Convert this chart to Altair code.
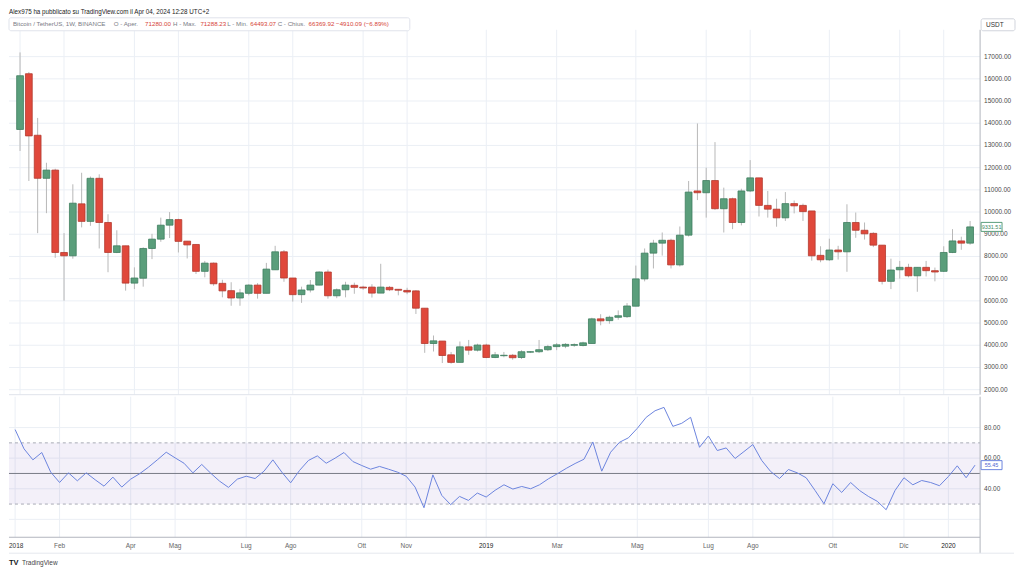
import altair as alt
import pandas as pd

# ---------------- data ----------------
opens = [13720, 16230, 13460, 11520, 11890, 8180, 8030, 10370, 9580, 11520,
         9530, 8180, 8480, 6800, 7020, 8360, 8780, 9410, 9660, 8690,
         8540, 7330, 7700, 6790, 6460, 6130, 6340, 6710, 6340, 7400,
         8210, 7030, 6280, 6490, 6710, 7300, 6230, 6500, 6700, 6620,
         6620, 6350, 6610, 6520, 6470, 6450, 5670, 4080, 4190, 3570,
         3230, 3930, 3780, 4010, 3450, 3530, 3550, 3450, 3690, 3710,
         3800, 3940, 3960, 4000, 3990, 4080, 5190, 5110, 5260, 5290,
         5760, 6990, 8150, 8600, 8730, 7620, 8960, 10950, 10870, 11420,
         10150, 10600, 9530, 10950, 11540, 10300, 10130, 9740, 10380, 10300,
         10050, 8050, 7850, 8290, 8210, 9530, 9180, 9040, 8510, 6880,
         7400, 7510, 7130, 7510, 7360, 7330, 8180, 8700, 8600]
highs = [17190, 16310, 14240, 12220, 11950, 9050, 11250, 11770, 11600, 11700,
         9900, 9180, 8480, 7510, 8410, 9020, 9750, 10000, 9700, 8700,
         8540, 7800, 7730, 6950, 6840, 6540, 6750, 6800, 7710, 8480,
         8290, 7030, 6640, 6940, 7330, 7410, 6560, 6860, 6820, 6680,
         6750, 7670, 6670, 6530, 6590, 6480, 5670, 4440, 4190, 3700,
         4170, 4240, 4070, 4070, 3700, 3700, 3610, 3780, 3740, 4240,
         4020, 4100, 4100, 4090, 4160, 5240, 5400, 5330, 5570, 5900,
         7590, 8360, 8750, 9080, 8800, 9350, 11400, 13990, 12000, 13150,
         11100, 10650, 11050, 12340, 11540, 10950, 10600, 10900, 10520, 10380,
         10050, 8460, 8800, 8480, 10350, 9980, 9530, 9090, 8510, 7900,
         7800, 7670, 7520, 7800, 7500, 8460, 9230, 8890, 9600]
lows = [12750, 11400, 9050, 9950, 7940, 6010, 7900, 9310, 9380, 8360,
        7290, 8150, 6460, 6530, 6640, 7880, 8660, 8830, 8180, 7910,
        7210, 7060, 6680, 6160, 5780, 5780, 6250, 6100, 6340, 7400,
        6860, 5970, 5910, 6380, 6700, 6100, 6120, 6160, 6320, 6500,
        6150, 6350, 6440, 6250, 6300, 5410, 3660, 3720, 3200, 3170,
        3230, 3570, 3720, 3420, 3420, 3460, 3350, 3380, 3650, 3650,
        3740, 3780, 3870, 3930, 3950, 4080, 4900, 4970, 5150, 5230,
        5760, 6880, 7460, 8040, 7460, 7550, 8900, 10540, 9750, 10100,
        9080, 9230, 9400, 10900, 9800, 9750, 9340, 9600, 9940, 9600,
        7810, 7740, 7800, 7860, 7310, 8840, 8760, 8420, 6740, 6530,
        7000, 7060, 6410, 7100, 6880, 7300, 8150, 8300, 8530]
closes = [16140, 13430, 11520, 11890, 8180, 8030, 10400, 9580, 11520, 9530,
          8180, 8480, 6800, 7030, 8360, 8780, 9410, 9660, 8680, 8520,
          7330, 7700, 6770, 6450, 6130, 6360, 6710, 6340, 7430, 8210,
          7030, 6280, 6490, 6710, 7300, 6230, 6500, 6710, 6610, 6580,
          6350, 6620, 6500, 6480, 6400, 5670, 4080, 4200, 3540, 3230,
          3930, 3780, 4010, 3450, 3570, 3550, 3440, 3710, 3710, 3800,
          3940, 4020, 4040, 4030, 4110, 5190, 5100, 5260, 5330, 5770,
          6990, 8150, 8600, 8730, 7620, 8960, 10900, 10870, 11420, 10150,
          10600, 9530, 10950, 11540, 10300, 10130, 9740, 10380, 10280, 10020,
          8030, 7850, 8290, 8210, 9530, 9180, 9020, 8510, 6880, 7390,
          7510, 7130, 7510, 7360, 7300, 8180, 8700, 8600, 9331.51]
rsi_values = [78.7, 66.1, 58.9, 63.7, 50.9, 44.1, 50.4, 45.2, 50.4, 45.9,
              41.7, 47.6, 41.1, 46.3, 49.8, 54.1, 58.9, 63.9, 60.2, 56.7,
              50.4, 55.9, 50.2, 45.0, 40.9, 46.3, 48.2, 46.7, 51.5, 58.9,
              50.9, 43.9, 52.0, 58.5, 61.5, 56.7, 60.0, 63.7, 57.8, 55.2,
              52.8, 54.6, 52.8, 50.9, 48.2, 41.1, 27.6, 49.1, 35.7, 29.6,
              35.0, 32.4, 37.2, 34.6, 39.0, 42.6, 39.8, 41.5, 40.0, 42.6,
              46.5, 49.8, 53.3, 56.5, 59.3, 70.6, 51.5, 63.9, 70.4, 73.3,
              79.5, 86.7, 91.0, 93.2, 80.8, 82.8, 86.7, 67.1, 74.5, 65.0,
              66.7, 59.8, 64.3, 68.9, 58.5, 51.3, 46.7, 52.6, 50.4, 47.2,
              38.9, 30.2, 43.3, 37.6, 44.1, 38.9, 35.0, 31.8, 26.3, 38.9,
              47.2, 42.6, 45.4, 44.1, 42.0, 48.0, 55.0, 47.2, 55.45]
tick_bars = [0, 5, 13, 18, 26, 31, 39, 44, 53, 61, 70, 78, 83, 92, 100, 105]
tick_labels = ["2018", "Feb", "Apr", "Mag", "Lug", "Ago", "Ott", "Nov",
               "2019", "Mar", "Mag", "Lug", "Ago", "Ott", "Dic", "2020"]
price_ticks = list(range(2000, 18000, 1000))
rsi_ticks = [40, 60, 80]
rsi_levels = [30, 70]
rsi_mid = [50]
rsi_grid_extra = [20]
last_price_label = "9331.51"
last_rsi_label = "55.45"

# ---------------- layout / style ----------------
FONT = "Liberation Sans"
W = 974
H1 = 366
H2 = 141
UP_FILL, UP_STROKE = "#5a9e7b", "#3f7d5f"
DN_FILL, DN_STROKE = "#e0483b", "#b23a2f"
GRID = "#ebeff5"
AXISLINE = "#b2b5be"
RSI_COLOR = "#6c85de"
LABEL_COLOR = "#4a4a4a"

n = len(opens)
df = pd.DataFrame({"i": list(range(n)), "open": opens, "high": highs,
                   "low": lows, "close": closes, "rsi": rsi_values})
df["dir"] = ["up" if c >= o else "down" for o, c in zip(opens, closes)]
ticks_df = pd.DataFrame({"i": tick_bars, "label": tick_labels,
                         "year": [l.isdigit() for l in tick_labels]})
pticks_df = pd.DataFrame({"v": price_ticks, "t": [f"{v:.2f}" for v in price_ticks]})
rticks_df = pd.DataFrame({"v": rsi_ticks, "t": [f"{v:.2f}" for v in rsi_ticks]})

xs = alt.Scale(domain=[-0.69, 108.57], nice=False, zero=False)
ps = alt.Scale(domain=[1775, 18210], nice=False, zero=False)
rs = alt.Scale(domain=[8.3, 100.2], nice=False, zero=False)
X = alt.X("i:Q", scale=xs, axis=None)


def PY(field):
    return alt.Y(field, scale=ps, axis=None)


def RY(field):
    return alt.Y(field, scale=rs, axis=None)


def txt(text, x, y, color, size=6.2, weight="normal", align="left"):
    return alt.Chart(pd.DataFrame({"t": [text]})).mark_text(
        align=align, baseline="middle", fontSize=size, color=color,
        font=FONT, fontWeight=weight
    ).encode(x=alt.value(x), y=alt.value(y), text="t:N")


def box(x, x2, y, y2, stroke="#e0e3eb"):
    return alt.Chart(pd.DataFrame({"a": [0]})).mark_rect(
        fill="white", stroke=stroke, strokeWidth=1, cornerRadius=2
    ).encode(x=alt.value(x), x2=alt.value(x2), y=alt.value(y), y2=alt.value(y2))


def vline(x, y, y2, color):
    return alt.Chart(pd.DataFrame({"a": [0]})).mark_rule(color=color, strokeWidth=1).encode(
        x=alt.value(x), y=alt.value(y), y2=alt.value(y2))


# ---------------- price pane ----------------
vgrid_p = alt.Chart(ticks_df).mark_rule(color=GRID, strokeWidth=1).encode(x=X)
hgrid_p = alt.Chart(pticks_df).mark_rule(color=GRID, strokeWidth=1).encode(
    y=PY("v:Q"), x=alt.value(0), x2=alt.value(W))
plabels = alt.Chart(pticks_df).mark_text(
    align="left", baseline="middle", fontSize=6.5, font=FONT, color=LABEL_COLOR
).encode(y=PY("v:Q"), x=alt.value(W + 4), text="t:N")

wicks = alt.Chart(df).mark_rule(color="#b8b8b8", strokeWidth=1).encode(
    x=X, y=PY("low:Q"), y2="high:Q")
bodies = alt.Chart(df).mark_bar(size=6.8, strokeWidth=0.8).encode(
    x=X,
    y=PY("open:Q"),
    y2="close:Q",
    color=alt.Color("dir:N", scale=alt.Scale(domain=["up", "down"], range=[UP_FILL, DN_FILL]), legend=None),
    stroke=alt.Stroke("dir:N", scale=alt.Scale(domain=["up", "down"], range=[UP_STROKE, DN_STROKE]), legend=None),
)
sep = alt.Chart(pd.DataFrame({"a": [0]})).mark_rule(color="#e0e3eb").encode(
    x=alt.value(0), x2=alt.value(W), y=alt.value(H1))

price_tag_df = pd.DataFrame({"v": [closes[-1]], "t": [last_price_label]})
TAG = "M-1,-0.43H1V0.43H-1Z"
price_tag = alt.Chart(price_tag_df).mark_point(
    shape=TAG, size=441, filled=False, fill="white", fillOpacity=1,
    stroke=UP_FILL, strokeWidth=1, opacity=1
).encode(x=alt.value(985.5), y=PY("v:Q"))
price_tag_txt = alt.Chart(price_tag_df).mark_text(
    fontSize=5.5, font=FONT, color="#3f8a66", align="center", baseline="middle"
).encode(x=alt.value(985.5), y=PY("v:Q"), text="t:N")

GRAY = "#7a7d86"
RED = "#d6453a"
header = [
    txt("Alex975 ha pubblicato su TradingView.com il Apr 04, 2024 12:28 UTC+2", 0, -18, "#222", size=6.3),
    box(0, 402, -12, 1),
    txt("Bitcoin / TetherUS, 1W, BINANCE", 4, -6, GRAY),
    txt("O - Aper.", 105, -6, GRAY), txt("71280.00", 136.5, -6, RED),
    txt("H - Max.", 164.5, -6, GRAY), txt("71288.23", 192, -6, RED),
    txt("L - Min.", 219, -6, GRAY), txt("64493.07", 242, -6, RED),
    txt("C - Chius.", 269.5, -6, GRAY), txt("66369.92", 300.5, -6, RED),
    txt("\u22124910.09 (\u22126.89%)", 328, -6, RED),
    box(975, 1009, -11, 1, stroke="#d1d4dc"),
    txt("USDT", 980, -5, "#333", size=6.5),
]

price = alt.layer(vgrid_p, hgrid_p, plabels, vline(W, 0, H1, AXISLINE), wicks, bodies, sep,
                  price_tag, price_tag_txt, *header).properties(width=W, height=H1)

# ---------------- RSI pane ----------------
vgrid_r = alt.Chart(ticks_df).mark_rule(color=GRID, strokeWidth=1).encode(x=X)
hgrid_r = alt.Chart(pd.DataFrame({"v": rsi_ticks + rsi_grid_extra})).mark_rule(
    color=GRID, strokeWidth=1).encode(y=RY("v:Q"), x=alt.value(0), x2=alt.value(W))
rlabels = alt.Chart(rticks_df).mark_text(
    align="left", baseline="middle", fontSize=6.5, font=FONT, color=LABEL_COLOR
).encode(y=RY("v:Q"), x=alt.value(W + 4), text="t:N")
band = alt.Chart(pd.DataFrame({"lo": [rsi_levels[0]], "hi": [rsi_levels[1]]})).mark_rect(
    color="#7e57c2", opacity=0.09).encode(
    x=alt.value(0), x2=alt.value(W), y=RY("lo:Q"), y2="hi:Q")
lvl = alt.Chart(pd.DataFrame({"v": rsi_levels})).mark_rule(
    color="#a9acb6", strokeDash=[3, 3], strokeWidth=1).encode(
    y=RY("v:Q"), x=alt.value(0), x2=alt.value(W))
mid = alt.Chart(pd.DataFrame({"v": rsi_mid})).mark_rule(color="#787b86", strokeWidth=1).encode(
    y=RY("v:Q"), x=alt.value(0), x2=alt.value(W))
rsi_line = alt.Chart(df).mark_line(color=RSI_COLOR, strokeWidth=1).encode(
    x=X, y=RY("rsi:Q"))
rsi_tag_df = pd.DataFrame({"v": [rsi_values[-1]], "t": [last_rsi_label]})
rsi_tag = alt.Chart(rsi_tag_df).mark_point(
    shape=TAG, size=441, filled=False, fill="white", fillOpacity=1,
    stroke=RSI_COLOR, strokeWidth=1, opacity=1
).encode(x=alt.value(985.5), y=RY("v:Q"))
rsi_tag_txt = alt.Chart(rsi_tag_df).mark_text(
    fontSize=5.5, font=FONT, color="#4f66cf", align="center", baseline="middle"
).encode(x=alt.value(985.5), y=RY("v:Q"), text="t:N")

bottom_line = alt.Chart(pd.DataFrame({"a": [0]})).mark_rule(color=AXISLINE, strokeWidth=1).encode(
    x=alt.value(0), x2=alt.value(W), y=alt.value(H2))
axis_bottom = alt.Chart(pd.DataFrame({"a": [0]})).mark_rule(color="#e6e8ee", strokeWidth=1).encode(
    x=alt.value(0), x2=alt.value(1008), y=alt.value(H2 + 16))

month_txt = alt.Chart(ticks_df[~ticks_df["year"]]).mark_text(
    fontSize=6.5, font=FONT, color="#666", baseline="middle", align="center"
).encode(x=X, y=alt.value(H2 + 9), text="label:N")
year_df = ticks_df[ticks_df["year"]]
year_txt_first = alt.Chart(year_df.iloc[:1]).mark_text(
    fontSize=6.5, font=FONT, color="#333", baseline="middle", align="left"
).encode(x=alt.value(0), y=alt.value(H2 + 9), text="label:N")
year_txt = alt.Chart(year_df.iloc[1:]).mark_text(
    fontSize=6.5, font=FONT, color="#222", baseline="middle", align="center"
).encode(x=X, y=alt.value(H2 + 9), text="label:N")

logo = [
    txt("TV", 0, H2 + 26, "#131722", size=7.5, weight="bold"),
    txt("TradingView", 13, H2 + 26, "#444", size=6.5),
]

rsi_chart = alt.layer(vgrid_r, hgrid_r, band, lvl, mid, rlabels, vline(W, 0, H2 + 16, AXISLINE),
                      rsi_line, rsi_tag, rsi_tag_txt, bottom_line, axis_bottom,
                      month_txt, year_txt_first, year_txt, *logo).properties(width=W, height=H2)

chart = alt.vconcat(price, rsi_chart, spacing=0).resolve_scale(
    x="independent", y="independent"
).properties(
    padding={"left": 0, "top": 0, "right": 0, "bottom": 0},
    background="white",
).configure_view(stroke=None).configure_concat(spacing=0)

chart.save("out.html", embed_options={"renderer": "svg", "actions": False})
